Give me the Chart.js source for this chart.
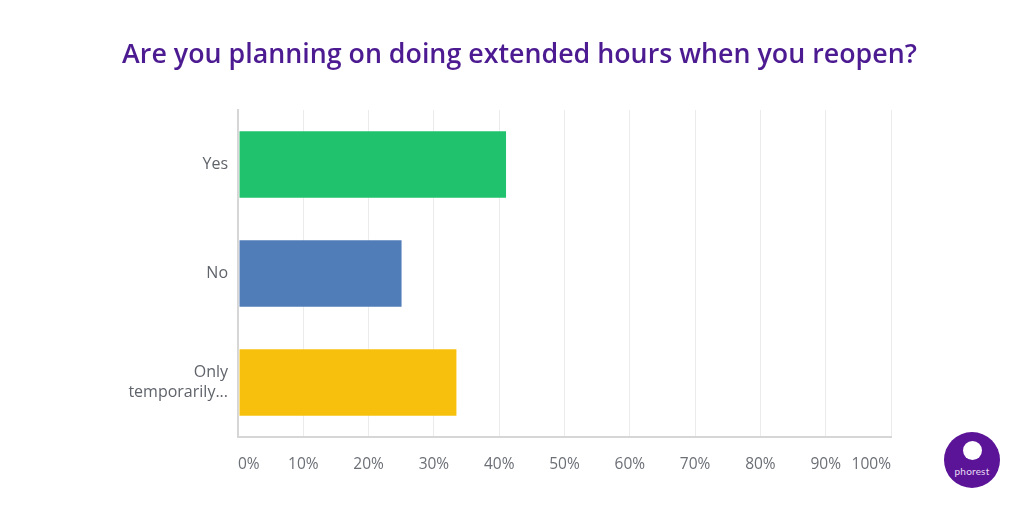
<!DOCTYPE html>
<html>
<head>
<meta charset="utf-8">
<script src="https://cdn.jsdelivr.net/npm/chart.js@4"></script>
<style>
  html, body { margin: 0; padding: 0; background: #ffffff; }
  #wrap { position: relative; width: 1024px; height: 512px; }
  #title { position: absolute; left: 0; width: 1039px; top: 35px; text-align: center;
           font-family: "Open Sans", "Noto Sans", sans-serif; font-weight: 600; font-size: 26.8px;
           color: #4c1a91; line-height: 36px; white-space: nowrap; }
  #logo { position: absolute; left: 944px; top: 432px; width: 56px; height: 56px; border-radius: 50%;
          background: #5b1497; color: #e9dcf5; font-family: "Lato", sans-serif; font-size: 10px;
          text-align: center; box-sizing: border-box; padding-top: 33px; letter-spacing: 0.2px; }
  #logo .mark { position: absolute; left: 19px; top: 9px; width: 19px; height: 19px; border-radius: 50%; background: #ffffff; }
</style>
</head>
<body>
<div id="wrap">
  <canvas id="c" width="1024" height="512"></canvas>
  <div id="title"></div>
  <div id="logo"><div class="mark"></div>phorest</div>
</div>
<script>
const titleText = "Are you planning on doing extended hours when you reopen?";
const categories = ["Yes", "No", ["Only", "temporarily..."]];
const percentages = [41.2, 25.2, 33.6];
const barColors = ["#21c26d", "#507cb7", "#f7c00c"];
const tickLabels = ["0%", "10%", "20%", "30%", "40%", "50%", "60%", "70%", "80%", "90%", "100%"];

document.getElementById("title").textContent = titleText;

const yFont = { family: "'Open Sans', 'Noto Sans', sans-serif", size: 16 };
const xFont = { family: "'Open Sans', 'Noto Sans', sans-serif", size: 15.5 };

new Chart(document.getElementById("c"), {
  type: "bar",
  data: {
    labels: categories,
    datasets: [{
      data: percentages,
      backgroundColor: barColors,
      borderColor: "rgba(255,255,255,0.35)",
      borderWidth: 1,
      borderSkipped: false,
      barPercentage: 0.63,
      categoryPercentage: 1.0
    }]
  },
  options: {
    indexAxis: "y",
    responsive: false,
    animation: false,
    layout: { padding: { left: 0, right: 133, top: 110, bottom: 0 } },
    plugins: {
      legend: { display: false },
      tooltip: { enabled: false },
      title: { display: false }
    },
    scales: {
      x: {
        min: 0,
        max: 100,
        afterFit: (s) => { s.height = 75; },
        afterBuildTicks: (s) => { s.ticks = tickLabels.map((t, i) => ({ value: i * 10 })); },
        ticks: {
          align: "inner",
          padding: 18,
          maxRotation: 0,
          autoSkip: false,
          color: "#6b6f76",
          font: xFont,
          callback: (v, i) => tickLabels[i]
        },
        grid: { color: "#ebebeb", lineWidth: 1, drawTicks: false },
        border: { display: true, color: "#d6d6d6", width: 2 }
      },
      y: {
        afterFit: (s) => { s.width = 238; },
        ticks: {
          padding: 10,
          color: "#5f636a",
          font: yFont
        },
        grid: { display: false, drawTicks: false },
        border: { display: true, color: "#d6d6d6", width: 2 }
      }
    }
  }
});
</script>
</body>
</html>
